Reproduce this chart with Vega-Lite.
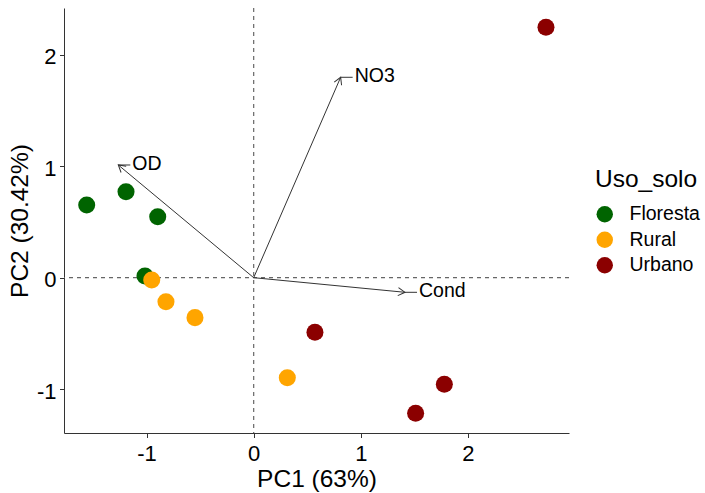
{
  "$schema": "https://vega.github.io/schema/vega-lite/v6.json",
  "width": 505,
  "height": 425,
  "autosize": {"type": "none"},
  "padding": {"left": 64, "top": 8, "right": 136, "bottom": 60},
  "background": "white",
  "config": {
    "view": {"stroke": null},
    "font": "Liberation Sans",
    "axis": {
      "grid": false,
      "domainColor": "#333333",
      "domainWidth": 1,
      "tickColor": "#333333",
      "tickWidth": 1,
      "tickSize": 4.5,
      "labelFontSize": 22,
      "labelColor": "#000000",
      "titleFontSize": 24.5,
      "titleFontWeight": "normal",
      "titleColor": "#000000",
      "labelExpr": "toString(datum.value)"
    },
    "axisX": {"labelPadding": 6, "titlePadding": 3},
    "axisY": {"labelPadding": 3.5, "titlePadding": 4.4, "labelOffset": 2}
  },
  "datasets": {
    "scores": [
      {"Uso_solo": "Floresta", "PC1": -1.559, "PC2": 0.651},
      {"Uso_solo": "Floresta", "PC1": -1.192, "PC2": 0.771},
      {"Uso_solo": "Floresta", "PC1": -0.896, "PC2": 0.547},
      {"Uso_solo": "Floresta", "PC1": -1.015, "PC2": 0.015},
      {"Uso_solo": "Rural", "PC1": -0.952, "PC2": -0.021},
      {"Uso_solo": "Rural", "PC1": -0.819, "PC2": -0.215},
      {"Uso_solo": "Rural", "PC1": -0.548, "PC2": -0.358},
      {"Uso_solo": "Rural", "PC1": 0.314, "PC2": -0.896},
      {"Uso_solo": "Urbano", "PC1": 2.729, "PC2": 2.244},
      {"Uso_solo": "Urbano", "PC1": 0.572, "PC2": -0.489},
      {"Uso_solo": "Urbano", "PC1": 1.78, "PC2": -0.955},
      {"Uso_solo": "Urbano", "PC1": 1.512, "PC2": -1.215}
    ],
    "loadings": [
      {"var": "NO3", "PC1": 0.812, "PC2": 1.796},
      {"var": "OD", "PC1": -1.264, "PC2": 1.01},
      {"var": "Cond", "PC1": 1.413, "PC2": -0.131}
    ]
  },
  "layer": [
    {
      "data": {"values": [{}]},
      "mark": {"type": "rule", "color": "#666666", "strokeWidth": 1.2, "strokeDash": [4, 4]},
      "encoding": {
        "x": {"datum": 0, "type": "quantitative", "title": "PC1 (63%)",
              "scale": {"domain": [-1.771, 2.944], "nice": false, "zero": false},
              "axis": {"values": [-1, 0, 1, 2]}}
      }
    },
    {
      "data": {"values": [{}]},
      "mark": {"type": "rule", "color": "#666666", "strokeWidth": 1.2, "strokeDash": [4, 4]},
      "encoding": {
        "y": {"datum": 0, "type": "quantitative", "title": "PC2 (30.42%)",
              "scale": {"domain": [-1.392, 2.417], "nice": false, "zero": false},
              "axis": {"values": [-1, 0, 1, 2]}}
      }
    },
    {
      "data": {"name": "loadings"},
      "transform": [{"calculate": "0", "as": "origin"}],
      "mark": {"type": "rule", "color": "#333333", "strokeWidth": 1},
      "encoding": {
        "x": {"field": "origin", "type": "quantitative", "title": "PC1 (63%)"},
        "y": {"field": "origin", "type": "quantitative", "title": "PC2 (30.42%)"},
        "x2": {"field": "PC1"},
        "y2": {"field": "PC2"}
      }
    },
    {
      "data": {"name": "loadings"},
      "transform": [
        {"calculate": "atan2(datum.PC1 * 107.1, datum.PC2 * 111.6) * 180 / PI", "as": "ang"}
      ],
      "mark": {"type": "point", "shape": "M-0.5,0.866L0,0L0.5,0.866", "filled": false,
               "stroke": "#333333", "strokeWidth": 1, "size": 256, "opacity": 1},
      "encoding": {
        "x": {"field": "PC1", "type": "quantitative", "title": "PC1 (63%)"},
        "y": {"field": "PC2", "type": "quantitative", "title": "PC2 (30.42%)"},
        "angle": {"field": "ang", "type": "quantitative", "scale": null}
      }
    },
    {
      "data": {"name": "loadings"},
      "mark": {"type": "rule", "color": "#333333", "strokeWidth": 1, "x2Offset": 12},
      "encoding": {
        "x": {"field": "PC1", "type": "quantitative", "title": "PC1 (63%)"},
        "y": {"field": "PC2", "type": "quantitative", "title": "PC2 (30.42%)"},
        "x2": {"field": "PC1"}
      }
    },
    {
      "data": {"name": "loadings"},
      "mark": {"type": "text", "align": "left", "baseline": "middle", "dx": 14, "dy": -1,
               "fontSize": 19.5, "color": "#000000"},
      "encoding": {
        "x": {"field": "PC1", "type": "quantitative", "title": "PC1 (63%)"},
        "y": {"field": "PC2", "type": "quantitative", "title": "PC2 (30.42%)"},
        "text": {"field": "var"}
      }
    },
    {
      "data": {"name": "scores"},
      "mark": {"type": "point", "shape": "circle", "filled": true, "size": 290, "opacity": 1},
      "encoding": {
        "x": {"field": "PC1", "type": "quantitative", "title": "PC1 (63%)"},
        "y": {"field": "PC2", "type": "quantitative", "title": "PC2 (30.42%)"},
        "color": {
          "field": "Uso_solo", "type": "nominal",
          "scale": {"domain": ["Floresta", "Rural", "Urbano"], "range": ["#006400", "#FFA500", "#8B0000"]},
          "legend": {
            "title": "Uso_solo", "orient": "none", "legendX": 531, "legendY": 160,
            "titleFontSize": 24.5, "titleFontWeight": "normal", "titleColor": "#000000",
            "titlePadding": 12, "labelFontSize": 19.5, "labelColor": "#000000",
            "symbolType": "circle", "symbolSize": 270, "symbolStrokeWidth": 0,
            "rowPadding": 4.5, "labelOffset": 15
          }
        }
      }
    }
  ]
}
